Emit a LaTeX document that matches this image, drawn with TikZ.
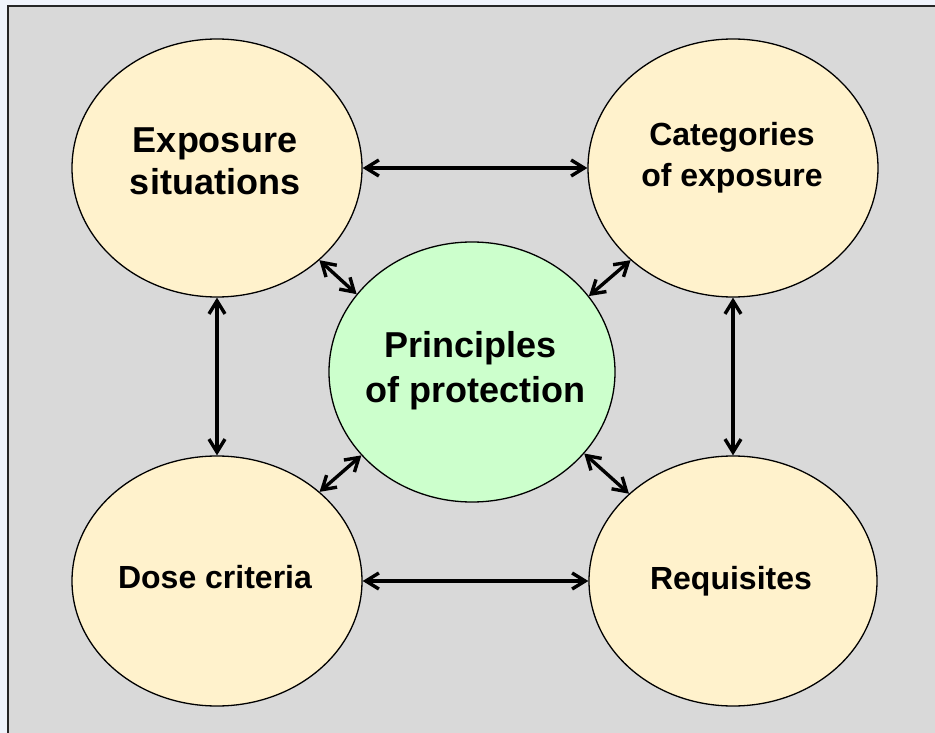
\documentclass[tikz,border=0pt]{standalone}
\usepackage{fontspec}
\setmainfont{Liberation Sans}
\usetikzlibrary{shapes.geometric,arrows.meta}

\definecolor{pagebg}{HTML}{F0F4FC}
\definecolor{panel}{HTML}{D9D9D9}
\definecolor{cream}{HTML}{FFF2CC}
\definecolor{mint}{HTML}{CCFFCC}

\tikzset{
  topic/.style={ellipse, draw=black, line width=1.3pt, fill=cream, inner sep=0pt},
  core/.style={topic, fill=mint},
  bigtext/.style={font=\bfseries\fontsize{36}{42}\selectfont, align=center, inner sep=0pt},
  smalltext/.style={font=\bfseries\fontsize{32}{41}\selectfont, align=center, inner sep=0pt},
  barb/.tip={Straight Barb[length=13pt,width=16pt,line width=3.4pt]},
  link/.style={line width=3.4pt, barb-barb}
}

\begin{document}
\begin{tikzpicture}[x=1pt, y=-1pt]
  \useasboundingbox (0,0) rectangle (935,733);
  \fill[pagebg] (0,0) rectangle (935,733);
  % grey panel, its frame visible on the top and left sides
  \fill[panel] (8,6) rectangle (935,733);
  \draw[line width=2.8pt, color=black!85] (935,6) -- (8,6) -- (8,733);

  % the five circles
  \node[topic, minimum width=290pt, minimum height=258pt] (sit) at (217,168) {};
  \node[topic, minimum width=290pt, minimum height=258pt] (cat) at (733,168) {};
  \node[topic, minimum width=290pt, minimum height=250pt] (dose) at (217,581) {};
  \node[topic, minimum width=288pt, minimum height=250pt] (req) at (733,581) {};
  \node[core, minimum width=286pt, minimum height=260pt] (prin) at (472,372) {};

  % their labels
  \node[bigtext] (sitT) at (215,161) {Exposure\\situations};
  \node[smalltext] (catT) at (732,158) {Categories\\of exposure};
  \node[smalltext] (doseT) at (215,577.5) {Dose criteria};
  \node[smalltext] (reqT) at (731,581) {Requisites};
  \node[bigtext, font=\bfseries\fontsize{36}{45}\selectfont] (prinT) at (475.5,370.4) {Principles\hspace*{10pt}\\of protection};

  % links round the outside
  \draw[link] (sit) -- (cat);
  \draw[link] (dose) -- (req);
  \draw[link] (sit) -- (dose);
  \draw[link] (cat) -- (req);

  % links to the centre
  \draw[link] (sit.-42) -- (prin.146);
  \draw[link] (cat.-138) -- (prin.33);
  \draw[link] (dose.41.5) -- (prin.-143);
  \draw[link] (req.140) -- (prin.-36);
\end{tikzpicture}
\end{document}
